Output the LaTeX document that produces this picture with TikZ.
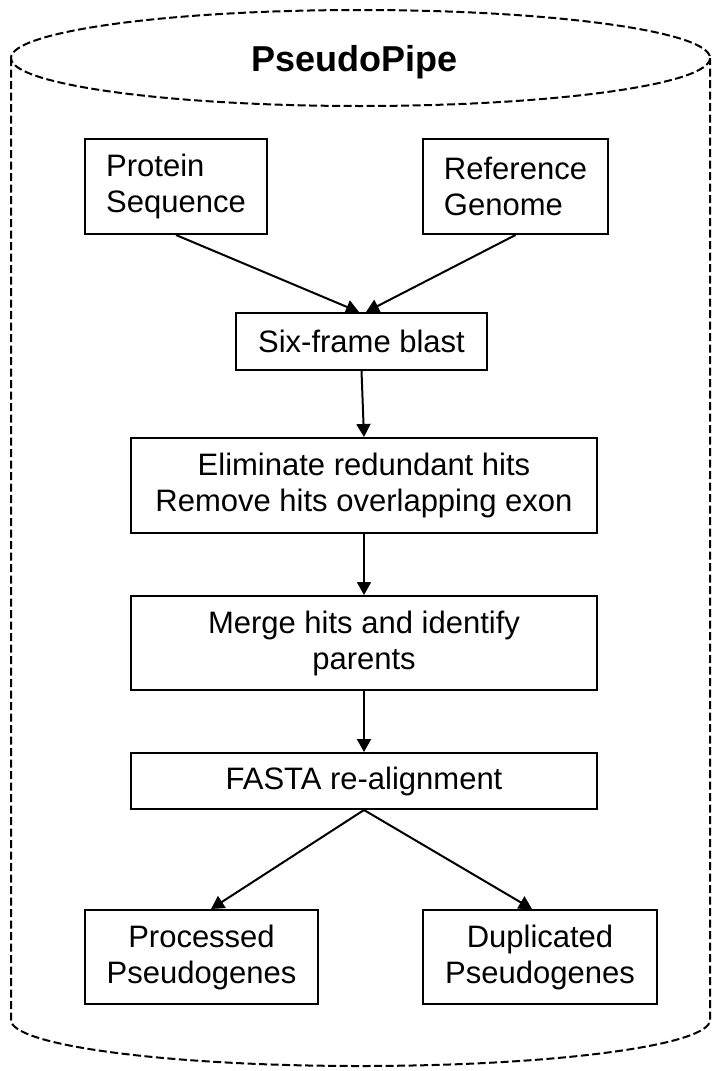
\documentclass[tikz,border=0pt]{standalone}
\usepackage{fontspec}
\setmainfont{Liberation Sans}
\usetikzlibrary{arrows.meta}
\begin{document}
\begin{tikzpicture}[x=1pt,y=-1pt,
  box/.style={draw,line width=2pt,inner sep=0pt,font=\fontsize{31}{36}\selectfont,align=center},
  conn/.style={line width=2pt,-{Triangle[length=13pt,width=14pt]}},
  cyl/.style={line width=2pt,dash pattern=on 8pt off 3.5pt}]
\useasboundingbox (0,0) rectangle (712,1071);
% cylinder
\draw[cyl] (360.5,58) ellipse [x radius=349.5, y radius=48];
\draw[cyl] (11,58) -- (11,1020) arc[start angle=180,end angle=0,x radius=349.5,y radius=46] -- (710,58);
\node[font=\bfseries\fontsize{36}{40}\selectfont,anchor=base,inner sep=0pt] (title) at (354.5,71) {PseudoPipe};
% boxes
\node[box,minimum width=182pt,minimum height=95pt,align=left] (prot) at (176,186.5) {Protein\\Sequence};
\node[box,minimum width=185pt,minimum height=95pt,align=left] (ref) at (515.5,186.5) {Reference\\Genome};
\node[box,minimum width=251pt,minimum height=57pt] (six) at (361.5,341.5) {Six-frame blast};
\node[box,minimum width=466pt,minimum height=95pt] (elim) at (364,485.5) {Eliminate redundant hits\\Remove hits overlapping exon};
\node[box,minimum width=466pt,minimum height=94pt] (merge) at (364,643) {Merge hits and identify\\parents};
\node[box,minimum width=466pt,minimum height=56pt] (fasta) at (364,781) {FASTA re-alignment};
\node[box,minimum width=233pt,minimum height=94pt] (proc) at (201.5,957) {Processed\\Pseudogenes};
\node[box,minimum width=234pt,minimum height=94pt] (dup) at (540,957) {Duplicated\\Pseudogenes};
% connectors
\draw[conn] (prot.south) -- ([xshift=-2.5pt]six.north);
\draw[conn] (ref.south) -- ([xshift=4.5pt]six.north);
\draw[conn] (six.south) -- (elim.north);
\draw[conn] (elim.south) -- (merge.north);
\draw[conn] (merge.south) -- (fasta.north);
\draw[conn] (fasta.south) -- ([xshift=9.5pt]proc.north);
\draw[conn] (fasta.south) -- ([xshift=-8pt]dup.north);
\end{tikzpicture}
\end{document}
